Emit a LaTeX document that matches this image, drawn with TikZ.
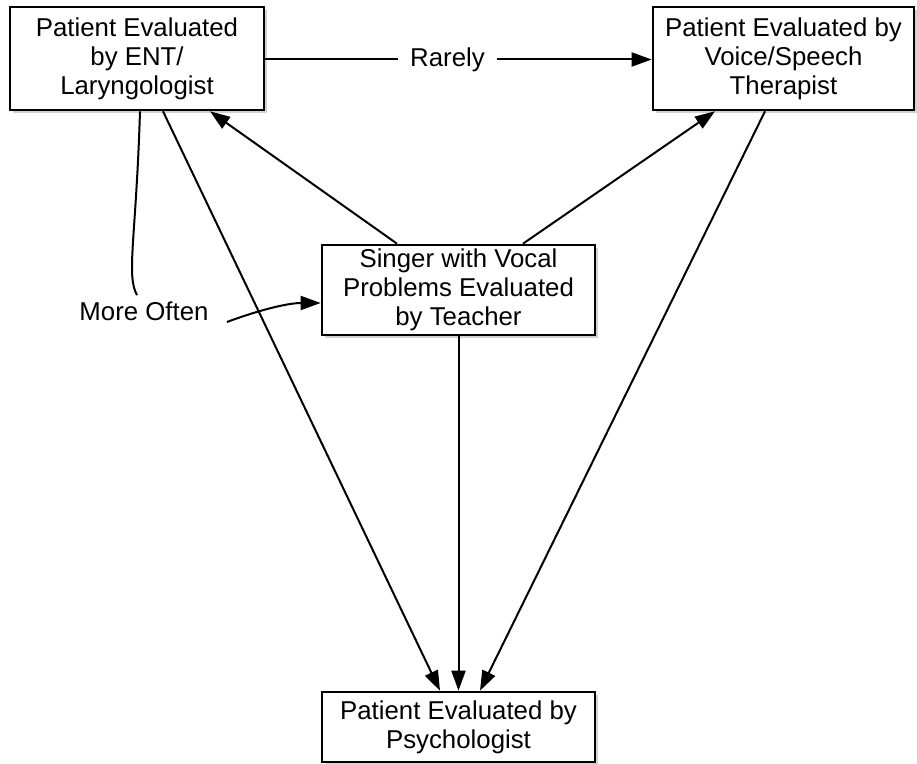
\documentclass[tikz,border=0pt]{standalone}
\usepackage{fontspec}
\setmainfont{Liberation Sans}
\usetikzlibrary{arrows.meta,shadows}

\tikzset{
    box/.style={draw,thick,line width=1.3pt,fill=white,align=center,inner sep=2pt,
        drop shadow={shadow xshift=1.5pt,shadow yshift=-1.5pt,fill=black!35}},
    lbl/.style={inner sep=0pt,inner xsep=6pt},
    conn/.style={draw,line width=1pt,-{Triangle[length=10pt,width=7pt]}}
}

\begin{document}
\begin{tikzpicture}[x=0.5pt,y=-0.5pt,font=\fontsize{12.9}{14.5}\selectfont]
        \useasboundingbox (0,0) rectangle (917,764);

        \node[box,minimum width=127pt,minimum height=51.5pt] (ent) at (137,58.5){Patient Evaluated\\by ENT/\\Laryngologist};
        \node[box,minimum width=130.5pt,minimum height=51.5pt] (voice) at (783.5,58.5){Patient Evaluated by\\Voice/Speech\\Therapist};
        \node[box,minimum width=136.5pt,minimum height=43pt] (sing) at (458.5,290){Singer with Vocal\\Problems Evaluated\\by Teacher};
        \node[box,minimum width=136.5pt,minimum height=35pt] (psy) at (458.5,727){Patient Evaluated by\\Psychologist};
        \node[lbl] (rarely) at (447.5,59.5){Rarely};
        \node[lbl,inner xsep=9pt,inner ysep=3pt] (more) at (144,311){More Often};

        \path [draw,line width=1pt] (ent.east |- rarely.west) -- (rarely.west);
        \path [conn] (rarely.east) -- (voice.west |- rarely.east);
        \path [draw,line width=1pt] ([xshift=1.5pt]ent.south) .. controls (136,240) and (126,275) .. ([xshift=-3.5pt]more.north);
        \path [conn] ([yshift=-5.5pt]more.east) .. controls (265,308) and (290,303) .. ([yshift=-6.5pt]sing.west);
        \path [conn] (sing.south) -- (psy.north);
        \path [conn] ([xshift=13pt]ent.south) -- ([xshift=-9.25pt]psy.north);
        \path [conn] ([xshift=-9.25pt]voice.south) -- ([xshift=10.75pt]psy.north);
        \path [conn] ([xshift=-30.75pt]sing.north) -- ([xshift=36.5pt]ent.south);
        \path [conn] ([xshift=32.25pt]sing.north) -- ([xshift=-34.25pt]voice.south);
    \end{tikzpicture}
\end{document}
